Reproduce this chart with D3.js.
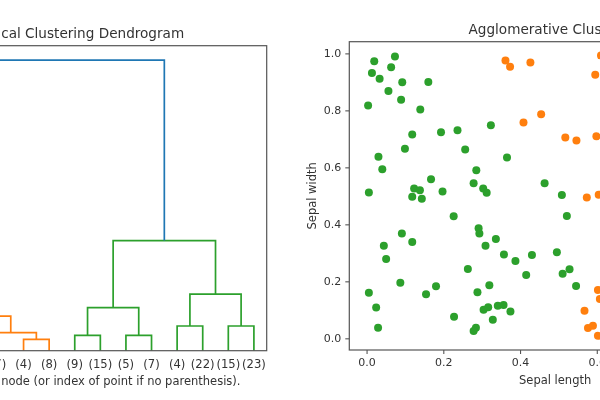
<!DOCTYPE html>
<html>
<head>
<meta charset="utf-8">
<script src="https://cdn.jsdelivr.net/npm/d3@7"></script>
<style>
  html, body { margin: 0; padding: 0; background: #fff; }
  svg { display: block; filter: blur(0.35px); }
  text { font-family: "DejaVu Sans", sans-serif; fill: #333; }
</style>
</head>
<body>
<svg id="chart" width="600" height="400"></svg>
<script>
// ---------------- DATA ----------------
// Dendrogram (truncated, level 3): leaf labels (counts per node), left to right
const leafLabels = ["(5)", "(9)", "(6)", "(4)", "(7)", "(7)", "(4)", "(8)",
                    "(9)", "(15)", "(5)", "(7)", "(4)", "(22)", "(15)", "(23)"];
// Merges: [left child id, right child id, distance]; leaves are ids 0..15, merges are 16+
const mergeLeft   = [4, 6, 16, 0, 2, 19, 21, 8, 10, 23, 12, 14, 26, 25, 22];
const mergeRight  = [5, 7, 17, 1, 3, 20, 18, 9, 11, 24, 13, 15, 27, 28, 29];
const mergeHeight = [0.030, 0.039, 0.062, 0.040, 0.050, 0.090, 0.119,
                     0.053, 0.053, 0.148, 0.085, 0.085, 0.195, 0.379, 1.000];

// Scatter: normalized sepal length / sepal width, with cluster label
const greenX = [0.020, 0.014, 0.034, 0.074, 0.064, 0.093, 0.057, 0.090, 0.004, 0.161,
                0.140, 0.119, 0.194, 0.237, 0.324, 0.100, 0.257, 0.031, 0.366, 0.041,
                0.286, 0.168, 0.464, 0.006, 0.124, 0.139, 0.119, 0.144, 0.198, 0.279,
                0.304, 0.313, 0.509, 0.227, 0.522, 0.092, 0.119, 0.045, 0.051, 0.292,
                0.294, 0.310, 0.337, 0.358, 0.388, 0.431, 0.416, 0.496, 0.511, 0.529,
                0.546, 0.264, 0.088, 0.006, 0.025, 0.030, 0.155, 0.181, 0.228, 0.289,
                0.320, 0.285, 0.279, 0.305, 0.317, 0.329, 0.342, 0.357, 0.375];
const greenY = [0.972, 0.931, 0.911, 0.989, 0.951, 0.899, 0.868, 0.837, 0.817, 0.900,
                0.803, 0.715, 0.723, 0.730, 0.748, 0.665, 0.663, 0.637, 0.635, 0.593,
                0.590, 0.558, 0.544, 0.512, 0.526, 0.520, 0.497, 0.490, 0.515, 0.544,
                0.526, 0.511, 0.503, 0.428, 0.429, 0.368, 0.338, 0.325, 0.278, 0.386,
                0.368, 0.325, 0.349, 0.294, 0.271, 0.292, 0.222, 0.302, 0.227, 0.242,
                0.184, 0.243, 0.195, 0.160, 0.108, 0.037, 0.155, 0.183, 0.076, 0.162,
                0.186, 0.037, 0.026, 0.100, 0.109, 0.065, 0.114, 0.117, 0.094];
const orangeX = [0.362, 0.374, 0.427, 0.611, 0.596, 0.455, 0.409, 0.518, 0.547, 0.599,
                 0.574, 0.605, 0.603, 0.608, 0.568, 0.577, 0.590, 0.603];
const orangeY = [0.975, 0.953, 0.968, 0.993, 0.925, 0.786, 0.757, 0.705, 0.694, 0.709,
                 0.494, 0.504, 0.170, 0.138, 0.097, 0.036, 0.044, 0.009];

const scatterTicks = [0, 0.2, 0.4, 0.6, 0.8, 1.0];

// ---------------- DRAW ----------------
const svg = d3.select("#chart");
const C0 = "#1f77b4", palette = ["#ff7f0e", "#2ca02c", "#d62728", "#9467bd"];
const spine = "#555";

// ===== Dendrogram =====
const dL = -142.8, dR = 266.7, dT = 45.7, dB = 350.7;
const nLeaves = leafLabels.length;
const maxH = d3.max(mergeHeight);
const dx = d3.scaleLinear().domain([0, 10 * nLeaves]).range([dL, dR]);
const dy = d3.scaleLinear().domain([0, maxH * 1.05]).range([dB, dT]);

// node positions
const nodeX = [], nodeH = [];
leafLabels.forEach((_, i) => { nodeX[i] = 10 * i + 5; nodeH[i] = 0; });
mergeHeight.forEach((h, k) => {
  const id = nLeaves + k;
  nodeX[id] = (nodeX[mergeLeft[k]] + nodeX[mergeRight[k]]) / 2;
  nodeH[id] = h;
});
// colouring (scipy default: threshold = 0.7 * max distance)
const threshold = 0.7 * maxH;
const nodeColor = [];
let ci = 0;
function paint(id, col) {
  if (id < nLeaves) return;
  const k = id - nLeaves;
  let c = col;
  if (c === null) {
    if (mergeHeight[k] < threshold) c = palette[ci++];
  }
  nodeColor[id] = c === null ? C0 : c;
  paint(mergeLeft[k], c);
  paint(mergeRight[k], c);
}
paint(nLeaves + mergeHeight.length - 1, null);

const dg = svg.append("g");
const line = d3.line().x(d => dx(d[0])).y(d => dy(d[1]));
mergeHeight.forEach((h, k) => {
  const id = nLeaves + k, a = mergeLeft[k], b = mergeRight[k];
  dg.append("path")
    .attr("d", line([[nodeX[a], nodeH[a]], [nodeX[a], h], [nodeX[b], h], [nodeX[b], nodeH[b]]]))
    .attr("fill", "none")
    .attr("stroke", nodeColor[id])
    .attr("stroke-width", 1.7);
});
dg.append("rect").attr("x", dL).attr("y", dT).attr("width", dR - dL).attr("height", dB - dT)
  .attr("fill", "none").attr("stroke", spine).attr("stroke-width", 1.2);

dg.selectAll(".leaf").data(leafLabels).join("text")
  .attr("class", "leaf")
  .attr("x", (d, i) => dx(10 * i + 5)).attr("y", 368)
  .attr("text-anchor", "middle").attr("font-size", 11.6).text(d => d);

dg.append("text").attr("x", (dL + dR) / 2).attr("y", 37.5)
  .attr("text-anchor", "middle").attr("font-size", 13.6)
  .text("Hierarchical Clustering Dendrogram");
dg.append("text").attr("x", (dL + dR) / 2).attr("y", 385.3)
  .attr("text-anchor", "middle").attr("font-size", 11.5)
  .text("Number of points in node (or index of point if no parenthesis).");

// ===== Scatter =====
const sL = 349.3, sR = 761, sT = 41.7, sB = 350;
const sx = d3.scaleLinear().domain([-0.045, 1.028]).range([sL, sR]);
const sy = d3.scaleLinear().domain([-0.041, 1.041]).range([sB, sT]);
const sg = svg.append("g");

sg.append("g").attr("transform", `translate(0,${sB})`)
  .call(d3.axisBottom(sx).tickValues(scatterTicks).tickFormat(d3.format(".1f"))
        .tickSize(4).tickPadding(4))
  .call(g => g.select(".domain").remove())
  .call(g => g.selectAll("line").attr("stroke", spine).attr("stroke-width", 1.1))
  .call(g => g.selectAll("text").attr("font-size", 11).attr("fill", "#333")
        .attr("font-family", "DejaVu Sans"));
sg.append("g").attr("transform", `translate(${sL},0)`)
  .call(d3.axisLeft(sy).tickValues(scatterTicks).tickFormat(d3.format(".1f"))
        .tickSize(4).tickPadding(4))
  .call(g => g.select(".domain").remove())
  .call(g => g.selectAll("line").attr("stroke", spine).attr("stroke-width", 1.1))
  .call(g => g.selectAll("text").attr("font-size", 11).attr("fill", "#333")
        .attr("font-family", "DejaVu Sans"));

sg.selectAll(".pg").data(greenX).join("circle").attr("class", "pg")
  .attr("cx", d => sx(d)).attr("cy", (d, i) => sy(greenY[i])).attr("r", 4)
  .attr("fill", palette[1]);
sg.selectAll(".po").data(orangeX).join("circle").attr("class", "po")
  .attr("cx", d => sx(d)).attr("cy", (d, i) => sy(orangeY[i])).attr("r", 4)
  .attr("fill", palette[0]);

sg.append("rect").attr("x", sL).attr("y", sT).attr("width", sR - sL).attr("height", sB - sT)
  .attr("fill", "none").attr("stroke", spine).attr("stroke-width", 1.2);

sg.append("text").attr("x", (sL + sR) / 2).attr("y", 34)
  .attr("text-anchor", "middle").attr("font-size", 13.6)
  .text("Agglomerative Clustering");
sg.append("text").attr("x", (sL + sR) / 2).attr("y", 383.5)
  .attr("text-anchor", "middle").attr("font-size", 11.5)
  .text("Sepal length");
sg.append("text").attr("transform", `translate(315.5,${(sT + sB) / 2}) rotate(-90)`)
  .attr("text-anchor", "middle").attr("font-size", 11.5)
  .text("Sepal width");
</script>
</body>
</html>
